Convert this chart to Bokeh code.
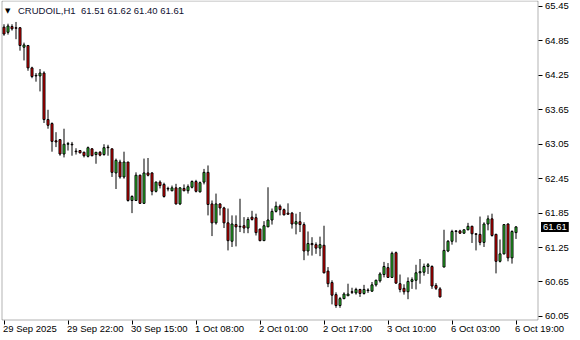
from bokeh.plotting import figure
from bokeh.models import (Range1d, LinearAxis, FixedTicker, Label, PrintfTickFormatter,
                          ColumnDataSource, BoxAnnotation)
from bokeh.embed import file_html
from bokeh.resources import INLINE

symbol = "CRUDOIL,H1"

x_tick_bars = [0, 16, 32, 48, 64, 80, 96, 112, 128]
x_tick_labels = ["29 Sep 2025", "29 Sep 22:00", "30 Sep 15:00", "1 Oct 08:00", "2 Oct 01:00",
                 "2 Oct 17:00", "3 Oct 10:00", "6 Oct 03:00", "6 Oct 19:00"]
y_ticks = [60.05, 60.65, 61.25, 61.85, 62.45, 63.05, 63.65, 64.25, 64.85, 65.45]

opens = [65.09, 65.00, 65.10, 65.08, 65.08, 64.74, 64.77, 64.38, 64.25, 64.24,
         64.29, 63.48, 63.41, 63.11, 63.13, 62.88, 63.05, 63.05, 62.93, 62.94,
         62.91, 62.84, 62.97, 62.87, 62.91, 62.87, 63.00, 62.97, 62.55, 62.74,
         62.48, 62.74, 62.07, 62.07, 62.51, 62.02, 62.55, 62.55, 62.23, 62.39,
         62.35, 62.28, 62.24, 62.29, 62.01, 62.28, 62.24, 62.30, 62.40, 62.22,
         62.39, 62.56, 62.01, 61.68, 62.01, 61.94, 61.68, 61.36, 61.65, 61.62,
         61.63, 61.59, 61.78, 61.77, 61.57, 61.37, 61.61, 61.73, 61.88, 61.97,
         61.91, 61.85, 61.85, 61.66, 61.70, 61.65, 61.19, 61.32, 61.30, 61.24,
         61.29, 60.84, 60.64, 60.43, 60.24, 60.36, 60.41, 60.48, 60.46, 60.52,
         60.45, 60.50, 60.49, 60.60, 60.67, 60.78, 60.90, 60.73, 61.16, 60.62,
         60.54, 60.48, 60.66, 60.68, 60.81, 60.82, 60.92, 60.92, 60.59, 60.53,
         60.91, 61.19, 61.36, 61.53, 61.54, 61.50, 61.56, 61.62, 61.49, 61.48,
         61.34, 61.66, 61.75, 61.48, 61.01, 61.14, 61.66, 61.07, 61.51]
highs = [65.14, 65.15, 65.14, 65.18, 65.09, 64.82, 64.78, 64.40, 64.29, 64.36,
         64.32, 63.65, 63.43, 63.26, 63.14, 63.32, 63.09, 63.09, 62.98, 62.94,
         62.92, 63.01, 62.98, 62.91, 62.93, 63.05, 63.04, 62.97, 62.80, 62.78,
         62.92, 62.74, 62.16, 62.56, 62.52, 62.80, 62.81, 62.56, 62.40, 62.42,
         62.38, 62.31, 62.33, 62.36, 62.30, 62.35, 62.35, 62.42, 62.43, 62.40,
         62.62, 62.68, 62.07, 62.19, 62.02, 61.96, 61.93, 61.81, 61.81, 62.10,
         61.78, 61.78, 61.89, 61.84, 61.58, 61.71, 62.30, 61.93, 62.05, 62.00,
         61.93, 62.02, 61.87, 61.84, 61.87, 61.69, 61.53, 61.43, 61.34, 61.44,
         61.63, 60.91, 60.68, 60.47, 60.39, 60.47, 60.62, 60.55, 60.55, 60.53,
         60.60, 60.54, 60.65, 60.69, 60.82, 61.00, 60.98, 61.18, 61.18, 60.78,
         60.61, 60.73, 60.73, 60.95, 61.05, 60.97, 60.98, 60.94, 60.63, 60.56,
         61.56, 61.38, 61.56, 61.55, 61.56, 61.56, 61.68, 61.63, 61.49, 61.79,
         61.69, 61.81, 61.84, 61.49, 61.39, 61.66, 61.67, 61.55, 61.62]
lows = [64.94, 64.96, 65.03, 64.88, 64.68, 64.51, 64.33, 64.20, 64.14, 63.97,
        63.42, 63.32, 62.92, 63.00, 62.85, 62.82, 62.94, 62.85, 62.87, 62.89,
        62.82, 62.82, 62.84, 62.71, 62.84, 62.85, 62.85, 62.48, 62.27, 62.45,
        62.45, 62.05, 61.85, 62.06, 62.01, 62.01, 62.49, 62.16, 62.21, 62.28,
        62.12, 62.23, 62.23, 62.00, 61.99, 62.23, 62.19, 62.28, 62.21, 62.21,
        62.35, 61.81, 61.45, 61.65, 61.81, 61.59, 61.20, 61.26, 61.27, 61.52,
        61.50, 61.50, 61.72, 61.46, 61.36, 61.37, 61.61, 61.65, 61.86, 61.81,
        61.81, 61.83, 61.58, 61.48, 61.52, 61.03, 61.11, 61.11, 61.14, 61.10,
        60.80, 60.56, 60.26, 60.20, 60.20, 60.35, 60.41, 60.44, 60.43, 60.39,
        60.43, 60.46, 60.48, 60.57, 60.64, 60.73, 60.72, 60.72, 60.62, 60.47,
        60.43, 60.35, 60.53, 60.52, 60.62, 60.76, 60.79, 60.53, 60.51, 60.38,
        60.91, 61.17, 61.30, 61.34, 61.49, 61.49, 61.55, 61.33, 61.20, 61.29,
        61.26, 61.55, 61.44, 60.80, 60.99, 61.13, 61.01, 60.97, 61.40]
closes = [64.97, 65.11, 65.06, 65.07, 64.77, 64.78, 64.38, 64.23, 64.24, 64.29,
          63.48, 63.38, 63.10, 63.09, 62.88, 63.05, 63.06, 63.04, 62.92, 62.90,
          62.85, 62.99, 62.85, 62.91, 62.86, 62.99, 62.99, 62.56, 62.77, 62.48,
          62.74, 62.07, 62.14, 62.51, 62.02, 62.55, 62.51, 62.23, 62.39, 62.33,
          62.14, 62.27, 62.29, 62.01, 62.29, 62.24, 62.31, 62.40, 62.23, 62.38,
          62.56, 62.00, 61.68, 62.01, 61.94, 61.68, 61.37, 61.66, 61.61, 61.61,
          61.59, 61.74, 61.74, 61.51, 61.37, 61.63, 61.73, 61.88, 61.97, 61.91,
          61.82, 61.83, 61.66, 61.70, 61.65, 61.19, 61.32, 61.30, 61.24, 61.30,
          60.81, 60.62, 60.42, 60.24, 60.36, 60.44, 60.44, 60.47, 60.52, 60.45,
          60.52, 60.51, 60.60, 60.68, 60.79, 60.92, 60.73, 61.15, 60.63, 60.52,
          60.48, 60.66, 60.69, 60.81, 60.83, 60.92, 60.95, 60.58, 60.54, 60.39,
          61.20, 61.36, 61.53, 61.54, 61.50, 61.56, 61.62, 61.49, 61.48, 61.34,
          61.66, 61.75, 61.46, 61.01, 61.14, 61.65, 61.07, 61.53, 61.61]

UP = "#32e032"
DOWN = "#ff0000"
FONT = "Liberation Sans"

idx = list(range(len(opens)))
tops = [max(o, c) for o, c in zip(opens, closes)]
bots = [min(o, c) for o, c in zip(opens, closes)]
fills = [UP if c > o else (DOWN if c < o else "black") for o, c in zip(opens, closes)]
src = ColumnDataSource(dict(x=idx, o=opens, h=highs, l=lows, c=closes, top=tops, bot=bots, fill=fills))

# layout: the frame fills the whole canvas; 4 px per bar, 57.4 px per price unit
W, H = 580, 340
PX_BAR = 4.0
PX_PRICE = 57.4
x_start = -3.5 / PX_BAR            # bar 0 centred on pixel column 3
y_end = 65.554                     # price at the canvas top edge
def xdata(px):
    return x_start + px / PX_BAR
def ydata(py):
    return y_end - py / PX_PRICE

p = figure(width=W, height=H, output_backend="svg", toolbar_location=None,
           x_range=Range1d(x_start, xdata(W)), y_range=Range1d(ydata(H), y_end),
           x_axis_location=None, y_axis_location=None,
           min_border_left=0, min_border_top=0, min_border_right=0, min_border_bottom=0)
p.grid.visible = False
p.outline_line_color = None
p.background_fill_color = "white"
p.border_fill_color = "white"

frame_left, frame_right = xdata(1.5), xdata(537.5)
frame_top, frame_bottom = ydata(0.5), ydata(319.5)
p.add_layout(BoxAnnotation(left=frame_left, right=frame_right, bottom=frame_bottom, top=frame_top,
                           fill_alpha=0, line_color="black", line_width=1, level="underlay"))

yaxis = LinearAxis(ticker=FixedTicker(ticks=y_ticks), formatter=PrintfTickFormatter(format="%.2f"),
                   fixed_location=frame_right)
yaxis.major_tick_in = 0
yaxis.major_tick_out = 4
yaxis.minor_tick_line_color = None
yaxis.axis_line_color = None
yaxis.major_tick_line_color = "black"
yaxis.major_label_text_font = FONT
yaxis.major_label_text_font_size = "9.5px"
yaxis.major_label_text_color = "black"
yaxis.major_label_standoff = 3
p.add_layout(yaxis, "right")

xaxis = LinearAxis(ticker=FixedTicker(ticks=x_tick_bars), fixed_location=frame_bottom)
xaxis.major_label_overrides = {t: "" for t in x_tick_bars}
xaxis.major_tick_in = 0
xaxis.major_tick_out = 4
xaxis.minor_tick_line_color = None
xaxis.axis_line_color = None
xaxis.major_tick_line_color = "black"
xaxis.major_label_text_font_size = "1px"
p.add_layout(xaxis, "below")

for b, t in zip(x_tick_bars, x_tick_labels):
    p.add_layout(Label(x=b, y=frame_bottom, x_offset=-1, y_offset=-3, text=t, text_align="left",
                       text_baseline="top", text_font=FONT, text_font_size="9.5px",
                       text_color="black"))

p.segment(x0="x", y0="l", x1="x", y1="h", source=src, line_color="black", line_width=1)
p.vbar(x="x", width=0.5, top="top", bottom="bot", source=src, fill_color="fill",
       line_color="black", line_width=1)

p.add_layout(Label(x=frame_left, y=frame_top, x_offset=3, y_offset=-6, text="\u25bc",
                   text_align="left", text_baseline="top", text_font="DejaVu Sans",
                   text_font_size="7px", text_color="black"))
title_vals = " ".join(f"{v:.2f}" for v in (opens[-1], highs[-1], lows[-1], closes[-1]))
p.add_layout(Label(x=frame_left, y=frame_top, x_offset=16, y_offset=-4, text=symbol,
                   text_align="left", text_baseline="top", text_font=FONT,
                   text_font_size="9.5px", text_color="#101030"))
p.add_layout(Label(x=frame_left, y=frame_top, x_offset=79, y_offset=-4, text=title_vals,
                   text_align="left", text_baseline="top", text_font=FONT,
                   text_font_size="9.5px", text_color="#101030"))

p.add_layout(Label(x=frame_right, y=closes[-1], x_offset=3, y_offset=0, text=f"{closes[-1]:.2f}",
                   text_align="left", text_baseline="middle", text_font=FONT,
                   text_font_size="9.5px", text_color="white",
                   background_fill_color="black", padding=2))

open("out.html", "w").write(file_html(p, INLINE))
